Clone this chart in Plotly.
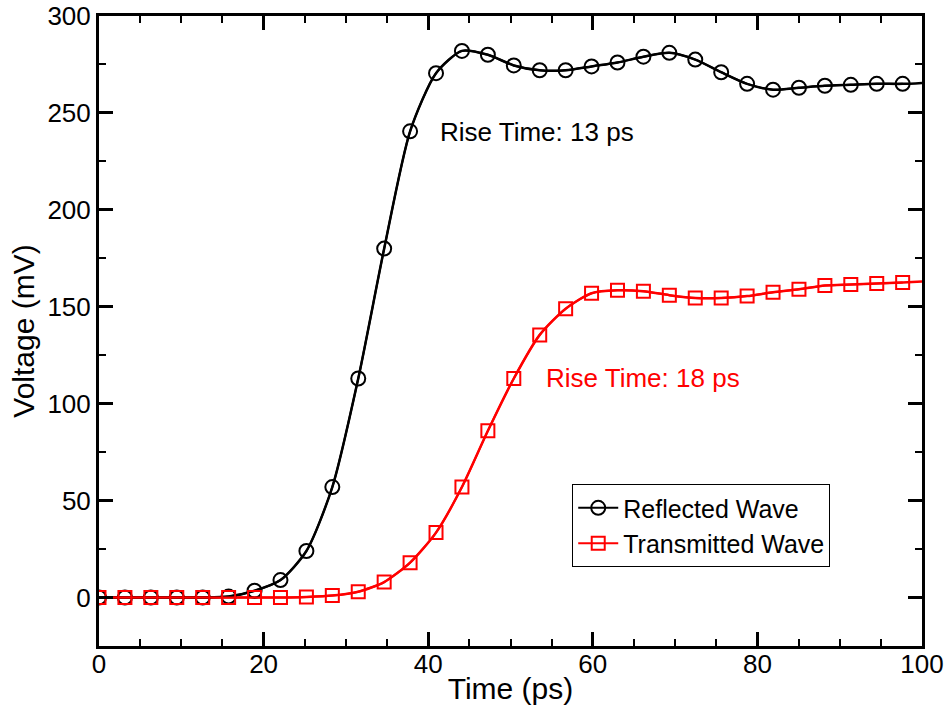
import plotly.graph_objects as go

# Marker sample times (ps)
t_markers = [0.0, 3.15, 6.3, 9.45, 12.6, 15.75, 18.9, 22.05, 25.2, 28.35, 31.5, 34.65,
             37.8, 40.95, 44.1, 47.25, 50.4, 53.55, 56.7, 59.85, 63.0, 66.15, 69.3,
             72.45, 75.6, 78.75, 81.9, 85.05, 88.2, 91.35, 94.5, 97.65]

reflected_mv = [0, 0, 0, 0, 0, 0.5, 3.5, 9, 24, 57, 113, 180,
                240.5, 270.5, 282, 280, 274.5, 272, 272, 274, 276, 279, 281,
                277.5, 271, 265, 262, 263, 264, 264.5, 265, 265]

transmitted_mv = [0, 0, 0, 0, 0, 0, 0, 0, 0.3, 1, 3, 8,
                  18, 33.5, 57, 86, 113, 135.5, 149, 157, 158.5, 158, 156,
                  154.5, 154.5, 155.5, 157.5, 159, 161, 161.5, 162, 162.5]

# End of recorded window
t_end = 100.0
reflected_end = 265.5
transmitted_end = 163.0

series_names = ["Reflected Wave", "Transmitted Wave"]
annotations_text = ["Rise Time: 13 ps", "Rise Time: 18 ps"]

FONT = "Liberation Sans, Arial, Helvetica, sans-serif"

fig = go.Figure()

# continuous lines (include end point)
fig.add_trace(go.Scatter(x=t_markers + [t_end], y=reflected_mv + [reflected_end],
                         mode="lines", line=dict(color="black", width=2.5, shape="spline", smoothing=0.7),
                         showlegend=False, hoverinfo="skip"))
fig.add_trace(go.Scatter(x=t_markers + [t_end], y=transmitted_mv + [transmitted_end],
                         mode="lines", line=dict(color="#ff0000", width=2.5, shape="spline", smoothing=0.7),
                         showlegend=False, hoverinfo="skip"))

# marker traces with legend entries
fig.add_trace(go.Scatter(x=t_markers, y=reflected_mv, name=series_names[0],
                         mode="lines+markers",
                         line=dict(color="black", width=2, shape="spline", smoothing=0.7),
                         marker=dict(symbol="circle-open", size=14, color="black",
                                     line=dict(width=2, color="black"))))
fig.add_trace(go.Scatter(x=t_markers, y=transmitted_mv, name=series_names[1],
                         mode="lines+markers",
                         line=dict(color="#ff0000", width=2, shape="spline", smoothing=0.7),
                         marker=dict(symbol="square-open", size=13, color="#ff0000",
                                     line=dict(width=2, color="#ff0000"))))

fig.add_annotation(x=41.2, y=240, xref="x", yref="y", text=annotations_text[0],
                   showarrow=False, xanchor="left", yanchor="middle",
                   font=dict(family=FONT, size=26, color="black"))
fig.add_annotation(x=54.1, y=113, xref="x", yref="y", text=annotations_text[1],
                   showarrow=False, xanchor="left", yanchor="middle",
                   font=dict(family=FONT, size=26, color="#ff0000"))

axis_common = dict(showline=True, linewidth=3, linecolor="black", mirror="allticks",
                   ticks="inside", ticklen=14, tickwidth=3, tickcolor="black",
                   showgrid=False, zeroline=False, automargin=False,
                   ticklabeloverflow="allow",
                   tickfont=dict(family=FONT, size=26, color="black"))

fig.update_xaxes(range=[0, 100], dtick=20, tick0=0, ticklabelstandoff=-7,
                 minor=dict(ticks="inside", ticklen=7, tickwidth=2, dtick=5, tickcolor="black", showgrid=False),
                 title=dict(text="Time (ps)", font=dict(family=FONT, size=30, color="black"), standoff=0),
                 **axis_common)
fig.update_yaxes(range=[-25, 300], dtick=50, tick0=0,
                 minor=dict(ticks="inside", ticklen=7, tickwidth=2, dtick=25, tickcolor="black", showgrid=False),
                 title=dict(text="Voltage (mV)", font=dict(family=FONT, size=30, color="black"), standoff=4),
                 **axis_common)

fig.update_layout(
    width=948, height=712,
    margin=dict(l=99, r=26, t=16, b=66, autoexpand=False),
    plot_bgcolor="white", paper_bgcolor="white",
    legend=dict(x=0.575, y=0.257, xanchor="left", yanchor="top",
                bordercolor="black", borderwidth=1, bgcolor="white",
                font=dict(family=FONT, size=25, color="black"),
                tracegroupgap=0, itemwidth=40),
    showlegend=True,
)

fig.write_html("out.html",
               config={"displayModeBar": False},
               post_script="document.body.style.margin='0';document.body.style.padding='0';")
